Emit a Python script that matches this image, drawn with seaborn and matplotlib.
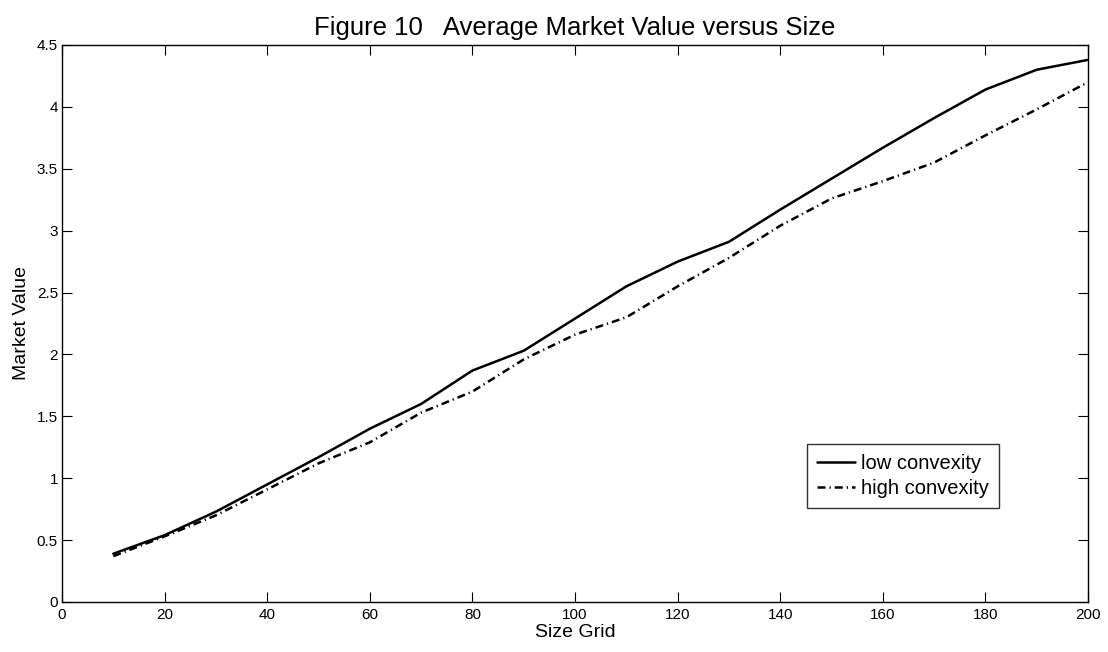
import matplotlib
matplotlib.use("Agg")
import matplotlib.pyplot as plt
import seaborn as sns
import pandas as pd

size_grid = [10, 20, 30, 40, 50, 60, 70, 80, 90, 100,
             110, 120, 130, 140, 150, 160, 170, 180, 190, 200]
low_convexity = [0.39, 0.54, 0.73, 0.95, 1.17, 1.40, 1.60, 1.87, 2.03, 2.29,
                 2.55, 2.75, 2.91, 3.17, 3.42, 3.67, 3.91, 4.14, 4.30, 4.38]
high_convexity = [0.37, 0.53, 0.70, 0.91, 1.12, 1.29, 1.53, 1.70, 1.96, 2.16,
                  2.30, 2.55, 2.78, 3.04, 3.26, 3.40, 3.55, 3.77, 3.98, 4.20]
series_names = ["low convexity", "high convexity"]

sns.set_theme(style="white")
plt.rcParams["font.family"] = ["Liberation Sans", "DejaVu Sans"]
plt.rcParams["text.color"] = "black"
plt.rcParams["axes.labelcolor"] = "black"

df = pd.DataFrame({
    "Size Grid": size_grid * 2,
    "Market Value": low_convexity + high_convexity,
    "series": [series_names[0]] * len(size_grid) + [series_names[1]] * len(size_grid),
})

fig = plt.figure(figsize=(11.08, 6.52), dpi=100)
ax = fig.add_axes([0.056, 0.0767, 0.926, 0.8543])

sns.lineplot(data=df, x="Size Grid", y="Market Value", style="series",
             dashes={series_names[0]: "", series_names[1]: (3.2, 1.6, 0.5, 1.6)},
             color="black", linewidth=1.8, ax=ax, legend=True)

ax.set_xlim(0, 200)
ax.set_ylim(0, 4.5)
ax.set_xticks(range(0, 201, 20))
ax.set_yticks([0, 0.5, 1, 1.5, 2, 2.5, 3, 3.5, 4, 4.5])
ax.set_yticklabels(["0", "0.5", "1", "1.5", "2", "2.5", "3", "3.5", "4", "4.5"])
ax.tick_params(direction="in", length=7.5, width=0.8, colors="black",
               labelsize=11, top=True, right=True, bottom=True, left=True)
ax.tick_params(axis="x", pad=4)
ax.tick_params(axis="y", pad=3)
for s in ax.spines.values():
    s.set_visible(True)
    s.set_color("black")
    s.set_linewidth(1.0)

ax.set_xlabel("Size Grid", fontsize=14, labelpad=2, color="black")
ax.set_ylabel("Market Value", fontsize=14, labelpad=5, color="black")
ax.set_title("Figure 10   Average Market Value versus Size", fontsize=18.5, pad=7,
             color="black")

leg = ax.legend(loc="lower left", bbox_to_anchor=(0.726, 0.169), fontsize=14.5,
                frameon=True, fancybox=False, handlelength=1.9, handletextpad=0.3,
                borderpad=0.5, labelspacing=0.3, borderaxespad=0)
leg.get_frame().set_edgecolor("black")
leg.get_frame().set_linewidth(1.0)
for t in leg.get_texts():
    t.set_color("black")

fig.savefig("out.png", dpi=100, facecolor="white")
